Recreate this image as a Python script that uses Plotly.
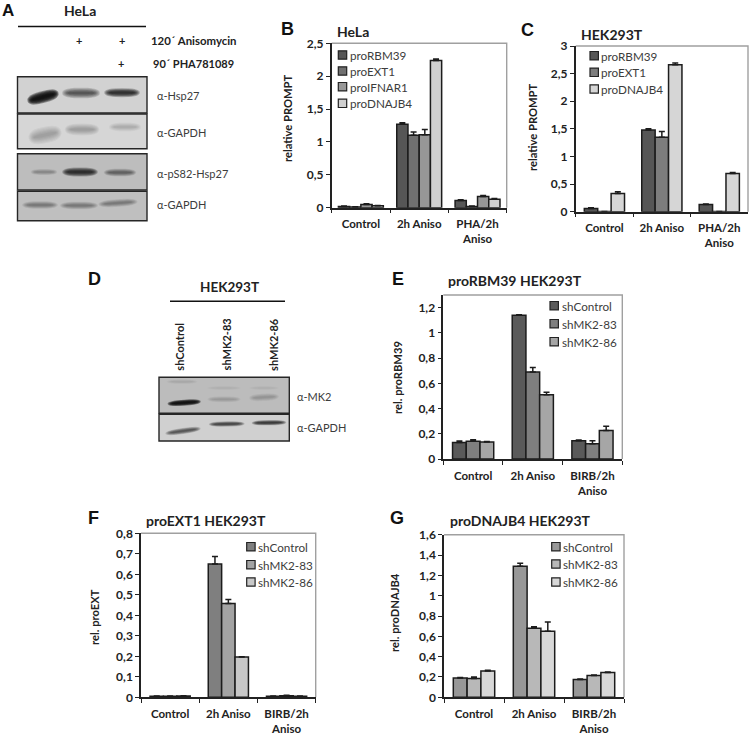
import math
import plotly.graph_objects as go

FONT = "Lato"
W, H = 750, 734

groups_pha = ["Control", "2h Aniso", "PHA/2h<br>Aniso"]
groups_birb = ["Control", "2h Aniso", "BIRB/2h<br>Aniso"]

# Panel B
b_names = ["proRBM39", "proEXT1", "proIFNAR1", "proDNAJB4"]
b_values = [[0.02, 1.27, 0.11], [0.01, 1.10, 0.02], [0.05, 1.11, 0.17], [0.03, 2.24, 0.13]]
b_errors = [[0.005, 0.02, 0.01], [0.003, 0.05, 0.004], [0.01, 0.08, 0.015], [0.005, 0.02, 0.01]]
b_colors = ["#565656", "#707070", "#979797", "#d0d0d0"]

# Panel C
c_names = ["proRBM39", "proEXT1", "proDNAJB4"]
c_values = [[0.06, 1.48, 0.13], [0.005, 1.35, 0.005], [0.33, 2.66, 0.69]]
c_errors = [[0.01, 0.02, 0.01], [0.0, 0.10, 0.0], [0.03, 0.03, 0.02]]
c_colors = ["#565656", "#7d7d7d", "#d6d6d6"]

# Panels E, F, G
sh_names = ["shControl", "shMK2-83", "shMK2-86"]
e_values = [[0.13, 1.14, 0.145], [0.14, 0.69, 0.12], [0.135, 0.51, 0.225]]
e_errors = [[0.012, 0.003, 0.006], [0.012, 0.035, 0.025], [0.003, 0.02, 0.035]]
e_colors = ["#5a5a5a", "#7f7f7f", "#a6a6a6"]

f_values = [[0.005, 0.65, 0.005], [0.005, 0.457, 0.008], [0.006, 0.197, 0.005]]
f_errors = [[0.001, 0.037, 0.001], [0.001, 0.02, 0.002], [0.001, 0.001, 0.001]]
f_colors = ["#7f7f7f", "#a3a3a3", "#c8c8c8"]

g_values = [[0.19, 1.29, 0.175], [0.185, 0.68, 0.215], [0.26, 0.65, 0.245]]
g_errors = [[0.005, 0.03, 0.005], [0.015, 0.015, 0.005], [0.005, 0.09, 0.005]]
g_colors = ["#989898", "#b8b8b8", "#d8d8d8"]


def px(x):
    return x / W


def py(y):
    return 1 - y / H


panels = [
    dict(names=b_names, values=b_values, errors=b_errors, colors=b_colors, groups=groups_pha,
         box=(331.7, 43.3, 506.7, 207.7), ymax=2.5, dtick=0.5, gap=0.23, ylabel="relative PROMPT",
         ylx=287, yly=118, title="HeLa", tx=337, ty=31, letter="B", lx=287, ly=29,
         sw=338.3, txtx=350, legy=[55, 71, 86.7, 103.3]),
    dict(names=c_names, values=c_values, errors=c_errors, colors=c_colors, groups=groups_pha,
         box=(575.7, 46, 748, 211.7), ymax=3, dtick=0.5, gap=0.3, ylabel="relative PROMPT",
         ylx=532, yly=127, title="HEK293T", tx=581, ty=34, letter="C", lx=527, ly=30,
         sw=590, txtx=600.7, legy=[55.7, 72.3, 89]),
    dict(names=sh_names, values=e_values, errors=e_errors, colors=e_colors, groups=groups_birb,
         box=(443.3, 295, 622.3, 459), ymax=1.3, dtick=0.2, gap=0.31, ylabel="rel. proRBM39",
         ylx=397, yly=378, title="proRBM39 HEK293T", tx=448, ty=280, letter="E", lx=398, ly=279,
         sw=550, txtx=561.7, legy=[305.7, 323.7, 341.7]),
    dict(names=sh_names, values=f_values, errors=f_errors, colors=f_colors, groups=groups_birb,
         box=(141, 533.3, 315.7, 697.3), ymax=0.8, dtick=0.1, gap=0.31, ylabel="rel. proEXT",
         ylx=94, yly=617, title="proEXT1 HEK293T", tx=146, ty=520, letter="F", lx=93, ly=518,
         sw=246.7, txtx=257.5, legy=[546.7, 564.7, 582]),
    dict(names=sh_names, values=g_values, errors=g_errors, colors=g_colors, groups=groups_birb,
         box=(444, 534.7, 624, 697.3), ymax=1.6, dtick=0.2, gap=0.31, ylabel="rel. proDNAJB4",
         ylx=394, yly=613, title="proDNAJB4 HEK293T", tx=450, ty=520, letter="G", lx=397, ly=518,
         sw=551.7, txtx=563, legy=[546.7, 564, 582]),
]

fig = go.Figure()
shapes, annotations = [], []
INK = "#222222"
LETTER_FONT = "Liberation Sans"


def text(x, y, s, size, bold=False, color=INK, anchor="left", angle=0, family=FONT):
    annotations.append(dict(
        x=px(x), y=py(y), xref="paper", yref="paper", text=s, showarrow=False,
        xanchor=anchor, yanchor="middle", textangle=angle, borderpad=0, borderwidth=0,
        font=dict(family=family, size=size, color=color, weight=700 if bold else 400)))


def rect(x0, y0, x1, y1, fill, line=None, lw=0, layer="above"):
    shapes.append(dict(type="rect", xref="paper", yref="paper", x0=px(x0), x1=px(x1),
                       y0=py(y0), y1=py(y1), fillcolor=fill, layer=layer,
                       line=dict(color=line or fill, width=lw)))


def hline(x0, x1, y, color="#111111", lw=1.6):
    shapes.append(dict(type="line", xref="paper", yref="paper", x0=px(x0), x1=px(x1),
                       y0=py(y), y1=py(y), line=dict(color=color, width=lw)))


for i, p in enumerate(panels):
    n = "" if i == 0 else str(i + 1)
    x0, y0, x1, y1 = p["box"]
    fig.update_layout({
        f"xaxis{n}": dict(domain=[px(x0), px(x1)], anchor=f"y{n}", type="category", automargin=False,
                          tickson="boundaries", ticks="outside", ticklen=4, tickwidth=1.3,
                          tickcolor=INK, showline=True, linecolor=INK, linewidth=1.5,
                          showgrid=False, tickfont=dict(family=FONT, size=11.5, color=INK, weight=700),
                          tickmode="array", tickvals=p["groups"], ticktext=p["groups"],
                          ticklabelstandoff=5),
        f"yaxis{n}": dict(domain=[py(y1), py(y0)], anchor=f"x{n}", range=[0, p["ymax"]], automargin=False,
                          dtick=p["dtick"], tick0=0, ticks="outside", ticklen=4, tickwidth=1.3,
                          tickcolor=INK, showline=True, linecolor=INK, linewidth=1.5,
                          showgrid=False, zeroline=False,
                          tickfont=dict(family=FONT, size=12, color=INK, weight=700)),
    })
    k = len(p["names"])
    bw = (1 - p["gap"]) / k
    for j, (name, vals, errs, col) in enumerate(zip(p["names"], p["values"], p["errors"], p["colors"])):
        fig.add_trace(go.Bar(
            x=p["groups"], y=vals, name=name, xaxis=f"x{n}", yaxis=f"y{n}", showlegend=False,
            width=bw, offset=-(1 - p["gap"]) / 2 + j * bw,
            marker=dict(color=col, line=dict(color="#1c1c1c", width=1.5)),
            error_y=dict(type="data", array=errs, arrayminus=[0] * len(errs), symmetric=False,
                         color="#1c1c1c", thickness=1.5, width=3),
        ))
    # grey frame on top and right
    shapes.append(dict(type="path", xref="paper", yref="paper",
                       path=f"M{px(x0)},{py(y0)} L{px(x1)},{py(y0)} L{px(x1)},{py(y1)}",
                       line=dict(color="#a0a0a0", width=1.4), layer="below"))
    # key
    for name, col, ly in zip(p["names"], p["colors"], p["legy"]):
        rect(p["sw"], ly - 4.2, p["sw"] + 8.4, ly + 4.2, col, "#222222", 1.2)
        text(p["txtx"], ly, name, 11.7, color="#3c3c3c")
    text(p["ylx"], p["yly"], p["ylabel"], 11.2, bold=True, anchor="center", angle=-90)
    text(p["tx"], p["ty"], p["title"], 14, bold=True)
    text(p["lx"], p["ly"], p["letter"], 18, bold=True, anchor="center", color="#111111", family=LETTER_FONT)

# ----- western blots -----
blot_panels = [
    (17.5, 76.7, 147, 113, "#d2d2d2"),
    (17.5, 114, 147, 148.7, "#d6d6d6"),
    (17.5, 153.7, 147, 190, "#bdbdbd"),
    (17.5, 191.3, 147, 220.7, "#bfbfbf"),
    (159, 377.3, 289.3, 413.3, "#bcbcbc"),
    (159, 414.3, 289.3, 441, "#d0d0d0"),
]
# band centre x, centre y, width, height, tilt in degrees, darkness
blot_bands = [
    (43, 97, 28, 8, -15, 0.95), (81, 93, 33, 7, 0, 0.62), (122, 92.7, 31, 6, 0, 0.8),
    (45, 135, 29, 11, -12, 0.26), (82, 129.5, 30, 8, 0, 0.24), (125, 127, 28, 6, 0, 0.18),
    (44, 172, 23, 4, 0, 0.3), (80, 172, 31, 6, 0, 0.82), (120, 172.5, 28, 5, 0, 0.5),
    (40, 205, 31, 5, 0, 0.38), (79, 205.5, 33, 5, 0, 0.38), (118, 203, 34, 5, -4, 0.38),
    (184.2, 402.7, 29, 4, -4, 0.95), (182, 381.7, 27, 3, 0, 0.1), (224, 399.3, 29, 4, 0, 0.18),
    (224, 388, 30, 3, 0, 0.05), (264, 397.3, 26, 5, -3, 0.2), (264, 388, 26, 3, 0, 0.05),
    (183, 431, 31, 4, -8, 0.62), (226.7, 424, 31, 3.5, -1, 0.7), (269, 422.7, 30, 3.5, -1, 0.75),
]
for bx0, by0, bx1, by1, bg in blot_panels:
    rect(bx0, by0, bx1, by1, bg)


def band(cx, cy, w, h, tilt, dark):
    t = math.radians(tilt)
    layers = 7
    alpha = 1 - (1 - min(dark, 0.97)) ** (1 / layers)
    for k in range(layers):
        s = 1.5 - 1.2 * k / (layers - 1)
        sw = 1.15 - 0.35 * k / (layers - 1)
        pts = []
        for j in range(28):
            a = 2 * math.pi * j / 28
            c, d = math.cos(a), math.sin(a)
            ex = (w / 2 * sw) * math.copysign(abs(c) ** 0.7, c)
            ey = (h / 2 * s) * math.copysign(abs(d) ** 0.9, d)
            pts.append((cx + ex * math.cos(t) - ey * math.sin(t),
                        cy + ex * math.sin(t) + ey * math.cos(t)))
        path = "M" + " L".join(f"{px(a_):.5f},{py(b_):.5f}" for a_, b_ in pts) + " Z"
        shapes.append(dict(type="path", xref="paper", yref="paper", path=path,
                           fillcolor="#0c0c0c", opacity=alpha, line=dict(width=0)))


for b in blot_bands:
    band(*b)
for bx0, by0, bx1, by1, bg in blot_panels:
    rect(bx0, by0, bx1, by1, "rgba(0,0,0,0)", "#262626", 1.4)

# ----- panel A and D texts -----
text(8, 11, "A", 17, bold=True, anchor="center", color="#111111", family=LETTER_FONT)
text(80, 11, "HeLa", 14, bold=True, anchor="center")
hline(18, 146, 26.5)
for x_, y_ in [(79, 41), (122, 41), (121, 64)]:
    text(x_, y_, "+", 11, bold=True, anchor="center")
text(151, 41, "120´ Anisomycin", 11.4, bold=True)
text(153, 64, "90´ PHA781089", 11, bold=True)
for y_, s in [(96, "α-Hsp27"), (132, "α-GAPDH"), (173, "α-pS82-Hsp27"), (204, "α-GAPDH")]:
    text(157, y_, s, 11, color="#3c3c3c")

text(94, 279, "D", 18, bold=True, anchor="center", color="#111111", family=LETTER_FONT)
text(229, 287, "HEK293T", 13.5, bold=True, anchor="center")
hline(170, 285, 301.3)
for x_, s in [(180, "shControl"), (226.7, "shMK2-83"), (272.7, "shMK2-86")]:
    annotations.append(dict(x=px(x_), y=py(372.7), xref="paper", yref="paper", text=s,
                            showarrow=False, textangle=-90, xanchor="center", yanchor="bottom",
                            font=dict(family=FONT, size=11, color=INK, weight=700)))
text(296.7, 396.7, "α-MK2", 11, color="#3c3c3c")
text(296.7, 427.7, "α-GAPDH", 11, color="#3c3c3c")

fig.update_layout(
    width=W, height=H, autosize=False, margin=dict(l=0, r=0, t=0, b=0, pad=0),
    paper_bgcolor="white", plot_bgcolor="white", barmode="group",
    bargroupgap=0, separators=", ", showlegend=False,
    shapes=shapes, annotations=annotations, font=dict(family=FONT),
)

fig.write_html("out.html", config=dict(displayModeBar=False),
               post_script="document.body.style.margin='0';document.body.style.overflow='hidden';")
